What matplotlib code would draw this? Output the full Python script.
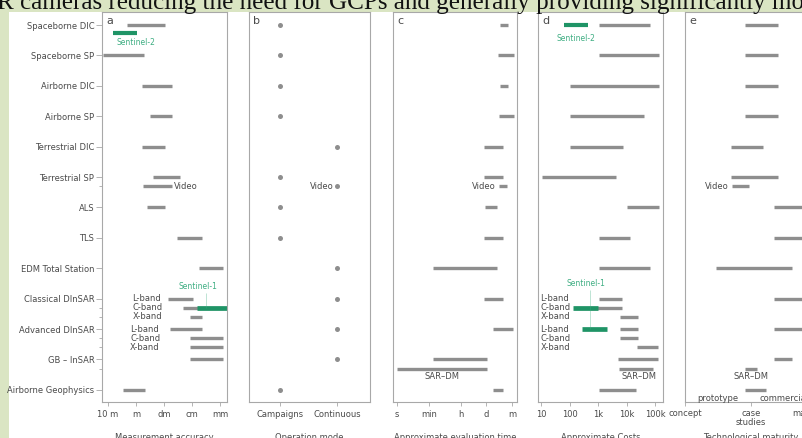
import matplotlib
matplotlib.use('Agg')
import matplotlib.pyplot as plt
import matplotlib.transforms as mtransforms
from matplotlib.patches import Rectangle

# ---- data ----
categories = ['Spaceborne DIC', 'Spaceborne SP', 'Airborne DIC', 'Airborne SP',
              'Terrestrial DIC', 'Terrestrial SP', 'ALS', 'TLS', 'EDM Total Station',
              'Classical DInSAR', 'Advanced DInSAR', 'GB \u2013 InSAR', 'Airborne Geophysics']

# measurement accuracy, metres (coarse, fine); 2nd/3rd entries are sub-bars
accuracy = {
    'Spaceborne DIC': [(2.0, 0.09)],
    'Spaceborne SP': [(15, 0.5)],
    'Airborne DIC': [(0.63, 0.05)],
    'Airborne SP': [(0.32, 0.05)],
    'Terrestrial DIC': [(0.63, 0.09)],
    'Terrestrial SP': [(0.25, 0.027), (0.56, 0.05)],
    'ALS': [(0.4, 0.09)],
    'TLS': [(0.035, 0.0044)],
    'EDM Total Station': [(0.0056, 0.0008)],
    'Classical DInSAR': [(0.072, 0.009), (0.021, 0.0008), (0.012, 0.0044)],
    'Advanced DInSAR': [(0.06, 0.0044), (0.012, 0.0008), (0.012, 0.0008)],
    'GB \u2013 InSAR': [(0.012, 0.0008)],
    'Airborne Geophysics': [(2.9, 0.48)],
}
acc_sentinel2 = (6.6, 0.9)
acc_sentinel1 = (0.0066, 0.00056)

# operation mode
mode = ['Campaigns', 'Campaigns', 'Campaigns', 'Campaigns', 'Continuous',
        'Campaigns', 'Campaigns', 'Campaigns', 'Continuous', 'Continuous',
        'Continuous', 'Continuous', 'Campaigns']
mode_video = 'Continuous'

# evaluation time, seconds
eval_time = {
    'Spaceborne DIC': [(5.2e5, 1.5e6)],
    'Spaceborne SP': [(4e5, 3.2e6)],
    'Airborne DIC': [(5.2e5, 1.5e6)],
    'Airborne SP': [(4.7e5, 3.2e6)],
    'Terrestrial DIC': [(6.8e4, 7.8e5)],
    'Terrestrial SP': [(6.8e4, 7.8e5), (4.7e5, 1.26e6)],
    'ALS': [(8e4, 3.5e5)],
    'TLS': [(6.8e4, 7.8e5)],
    'EDM Total Station': [(100, 3.5e5)],
    'Classical DInSAR': [(6.8e4, 7.8e5)],
    'Advanced DInSAR': [(2.1e5, 2.8e6)],
    'GB \u2013 InSAR': [(100, 1e5), (1, 1e5)],
    'Airborne Geophysics': [(2.1e5, 7.8e5)],
}

# approximate costs
costs = {
    'Spaceborne DIC': [(1070, 66000)],
    'Spaceborne SP': [(1070, 1.4e5)],
    'Airborne DIC': [(105, 1.4e5)],
    'Airborne SP': [(105, 41000)],
    'Terrestrial DIC': [(105, 7600)],
    'Terrestrial SP': [(11, 4300)],
    'ALS': [(10500, 1.4e5)],
    'TLS': [(1070, 13000)],
    'EDM Total Station': [(1070, 66000)],
    'Classical DInSAR': [(1070, 6900), (155, 6900), (5900, 25000)],
    'Advanced DInSAR': [(5900, 25000), (5900, 25000), (23000, 1.27e5)],
    'GB \u2013 InSAR': [(5000, 1.27e5), (5500, 85000)],
    'Airborne Geophysics': [(1070, 21000)],
}
cost_sentinel2 = (65, 450)
cost_sentinel1_classical = (130, 1000)
cost_sentinel1_advanced = (275, 2100)

# technological maturity (0 concept, 1 case studies, 2 mature)
maturity = {
    'Spaceborne DIC': [(0.91, 1.41)],
    'Spaceborne SP': [(0.91, 1.41)],
    'Airborne DIC': [(0.91, 1.41)],
    'Airborne SP': [(0.91, 1.41)],
    'Terrestrial DIC': [(0.7, 1.18)],
    'Terrestrial SP': [(0.7, 1.41), (0.71, 0.97)],
    'ALS': [(1.35, 2.0)],
    'TLS': [(1.35, 2.0)],
    'EDM Total Station': [(0.47, 1.62)],
    'Classical DInSAR': [(1.35, 2.0)],
    'Advanced DInSAR': [(1.35, 2.0)],
    'GB \u2013 InSAR': [(1.35, 1.62), (0.91, 1.09)],
    'Airborne Geophysics': [(0.91, 1.23)],
}

bands = ['L-band', 'C-band', 'X-band']

# ---- style ----
GREY = '#8e8e8e'
GREEN = '#1f9466'
GREEN_TXT = '#3fae83'
TXT = '#4a4a4a'
SPINE = '#a8a8a8'
STEP = 0.3
W, H = 802, 438

fig = plt.figure(figsize=(W / 100, H / 100), dpi=100, facecolor='#dae5c3')
bg = Rectangle((9 / W, 0), 1, (H - 12) / H, transform=fig.transFigure,
               facecolor='white', edgecolor='none', zorder=-10)
fig.add_artist(bg)
fig.text(-0.004, 1 - 9.5 / H,
         'R cameras reducing the need for GCPs and generally providing significantly mo',
         family='Liberation Serif', fontsize=18.1, color='#111111', va='baseline')


def make_ax(x0, x1):
    ax = fig.add_axes([x0 / W, (H - 402) / H, (x1 - x0) / W, 390 / H])
    ax.set_facecolor('white')
    for s in ax.spines.values():
        s.set_color(SPINE)
        s.set_linewidth(0.8)
    ax.set_ylim(12.4, -0.43)
    ax.set_yticks([])
    ax.tick_params(axis='x', length=3, width=0.6, color=SPINE, labelsize=6,
                   labelcolor=TXT, pad=3)
    return ax


def bars(ax, data, lw=2.4):
    for i, cat in enumerate(categories):
        for j, (lo, hi) in enumerate(data.get(cat, [])):
            ax.hlines(i + STEP * j, lo, hi, color=GREY, lw=lw, capstyle='butt')


def panel_label(ax, s, xlabel):
    ax.text(0.035, 0.99, s, transform=ax.transAxes, ha='left', va='top',
            fontsize=8, color=TXT)
    ax.text(0.5, -0.092, xlabel, transform=ax.transAxes, ha='center',
            va='center', fontsize=6, color=TXT)


# ---- a: measurement accuracy ----
ax = make_ax(102, 227)
ax.set_xscale('log')
ax.set_xlim(16.2, 0.00056)
ax.set_xticks([10, 1, 0.1, 0.01, 0.001], ['10 m', 'm', 'dm', 'cm', 'mm'])
ax.minorticks_off()
ax.set_yticks(range(len(categories)), categories)
ax.set_yticks([5 + STEP, 9 + STEP, 9 + 2 * STEP, 10 + STEP, 10 + 2 * STEP, 11 + STEP],
              minor=True)
ax.tick_params(axis='y', which='both', length=4, width=0.6, color=SPINE,
               labelsize=6, labelcolor=TXT, pad=1.5)
ax.tick_params(axis='y', which='minor', length=2.5)
bars(ax, accuracy)
ax.hlines(0 + 0.26, *acc_sentinel2, color=GREEN, lw=3.0, capstyle='butt')
ax.text(1.0, 0.56, 'Sentinel-2', color=GREEN_TXT, fontsize=5.5, ha='center', va='center')
ax.hlines(9 + STEP, *acc_sentinel1, color=GREEN, lw=3.4, capstyle='butt')
ax.text(0.0063, 9 - 0.4, 'Sentinel-1', color=GREEN_TXT, fontsize=5.5, ha='center', va='center')
ax.vlines(0.0032, 9 - 0.2, 9 + STEP, color=GREEN_TXT, lw=0.4, alpha=0.6)
tr = mtransforms.blended_transform_factory(ax.transAxes, ax.transData)
for k, b in enumerate(bands):
    ax.text(0.245, 9 + STEP * k, b, transform=tr, fontsize=6, color=TXT, va='center')
    ax.text(0.225, 10 + STEP * k, b, transform=tr, fontsize=6, color=TXT, va='center')
ax.text(0.045, 5 + STEP, 'Video', fontsize=6, color=TXT, va='center', ha='left')
panel_label(ax, 'a', 'Measurement accuracy')

# ---- b: operation mode ----
ax = make_ax(249, 370)
ax.set_xlim(-0.54, 1.58)
ax.set_xticks([0, 1], ['Campaigns', 'Continuous'])
xs = [0 if m == 'Campaigns' else 1 for m in mode]
ax.plot(xs, range(len(categories)), 'o', color=GREY, ms=3.6, mec='none')
vx = 0 if mode_video == 'Campaigns' else 1
ax.plot([vx], [5 + STEP], 'o', color=GREY, ms=3.6, mec='none')
ax.text(vx - 0.05, 5 + STEP, 'Video', fontsize=6, color=TXT, va='center', ha='right')
panel_label(ax, 'b', 'Operation mode')

# ---- c: evaluation time ----
ax = make_ax(393, 517)
ax.set_xscale('log')
ax.set_xlim(0.6, 4.7e6)
ax.set_xticks([1, 60, 3600, 86400, 2.6e6], ['s', 'min', 'h', 'd', 'm'])
ax.minorticks_off()
bars(ax, eval_time)
ax.text(3.2e5, 5 + STEP, 'Video', fontsize=6, color=TXT, va='center', ha='right')
ax.text(300, 11 + 0.56, 'SAR\u2013DM', fontsize=6, color=TXT, va='center', ha='center')
panel_label(ax, 'c', 'Approximate evaluation time')

# ---- d: costs ----
ax = make_ax(538, 663)
ax.set_xscale('log')
ax.set_xlim(7.85, 1.9e5)
ax.set_xticks([10, 100, 1000, 1e4, 1e5], ['10', '100', '1k', '10k', '100k'])
ax.minorticks_off()
bars(ax, costs)
ax.hlines(0, *cost_sentinel2, color=GREEN, lw=3.0, capstyle='butt')
ax.text(170, 0.43, 'Sentinel-2', color=GREEN_TXT, fontsize=5.5, ha='center', va='center')
ax.hlines(9 + STEP, *cost_sentinel1_classical, color=GREEN, lw=3.4, capstyle='butt')
ax.hlines(10, *cost_sentinel1_advanced, color=GREEN, lw=3.4, capstyle='butt')
ax.text(380, 9 - 0.5, 'Sentinel-1', color=GREEN_TXT, fontsize=5.5, ha='center', va='center')
ax.vlines(525, 9 - 0.3, 10, color=GREEN_TXT, lw=0.4, alpha=0.6)
tr = mtransforms.blended_transform_factory(ax.transAxes, ax.transData)
for k, b in enumerate(bands):
    ax.text(0.02, 9 + STEP * k, b, transform=tr, fontsize=6, color=TXT, va='center')
    ax.text(0.02, 10 + STEP * k, b, transform=tr, fontsize=6, color=TXT, va='center')
ax.text(27000, 11 + 0.56, 'SAR\u2013DM', fontsize=6, color=TXT, va='center', ha='center')
panel_label(ax, 'd', 'Approximate Costs')

# ---- e: maturity ----
ax = make_ax(685, 817)
ax.set_xlim(0, 2.0)
ax.set_xticks([0, 1, 2], ['concept', 'case\nstudies', 'mature'])
ax.tick_params(axis='x', pad=2)
labs = ax.get_xticklabels()
for lab in labs:
    lab.set_verticalalignment('top')
    lab.set_linespacing(1.0)
# last label sits a little left of its tick in the original
labs[-1].set_transform(labs[-1].get_transform() +
                       mtransforms.ScaledTranslation(-10 / 100, 0, fig.dpi_scale_trans))
bars(ax, maturity)
ax.text(0.66, 5 + STEP, 'Video', fontsize=6, color=TXT, va='center', ha='right')
ax.text(1.0, 11 + 0.56, 'SAR\u2013DM', fontsize=6, color=TXT, va='center', ha='center')
ax.text(0.5, 12.28, 'prototype', fontsize=6, color=TXT, va='center', ha='center')
ax.text(1.5, 12.28, 'commercial', fontsize=6, color=TXT, va='center', ha='center')
panel_label(ax, 'e', 'Technological maturity')

fig.savefig('out.png', dpi=100, facecolor=fig.get_facecolor())
